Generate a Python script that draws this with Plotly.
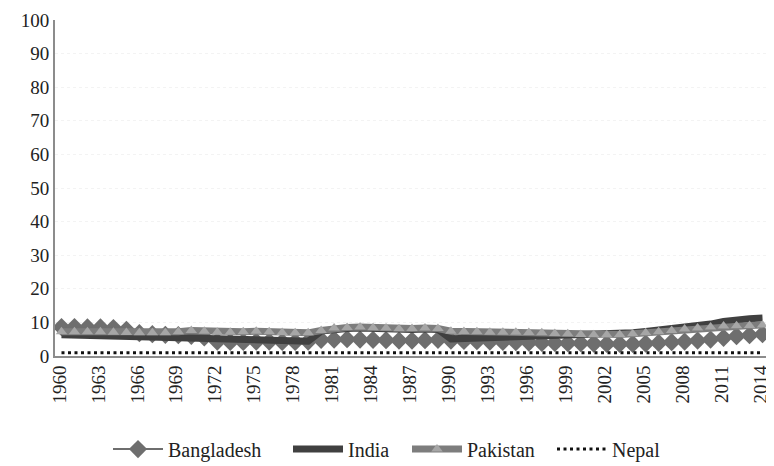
import plotly.graph_objects as go

years = list(range(1960, 2015))

bangladesh = [8.6, 8.6, 8.5, 8.5, 8.3, 7.8,
              6.8, 6.5, 6.3, 6.2, 6.0, 5.5,
              4.3, 4.2, 4.2, 4.3, 4.3, 4.2, 4.2, 4.3,
              4.8, 4.9, 5.0, 4.9, 4.8, 4.7, 4.6, 4.6, 4.7, 4.8,
              4.6, 4.5, 4.4, 4.3, 4.2, 4.1, 4.0, 3.9, 3.9, 3.8,
              3.8, 3.7, 3.6, 3.6, 3.6, 3.7, 3.9, 4.1, 4.3, 4.6,
              4.9, 5.4, 5.9, 6.2, 6.5]

india = [6.3, 6.2, 6.1, 6.0, 5.9, 5.8, 5.6, 5.5, 5.5, 5.5,
         5.6, 5.5, 5.4, 5.3, 5.2, 5.1, 5.0, 4.8, 4.6, 4.4,
         7.4, 8.0, 8.2, 8.3, 8.1, 8.0, 7.8, 7.9, 8.0, 7.9,
         5.1, 5.2, 5.3, 5.4, 5.4, 5.5, 5.6, 5.7, 5.8, 5.9,
         6.0, 6.1, 6.3, 6.5, 6.9, 7.3, 7.7, 8.1, 8.5, 8.9,
         9.5, 10.3, 10.9, 11.1, 11.3]

pakistan = [7.2, 7.2, 7.2, 7.2, 7.1, 7.0, 6.9, 6.9, 6.9, 7.2,
            7.6, 7.4, 7.1, 7.1, 7.2, 7.4, 7.2, 7.0, 6.9, 6.9,
            7.6, 8.3, 8.5, 8.6, 8.4, 8.3, 8.1, 8.2, 8.3, 8.2,
            7.4, 7.3, 7.2, 7.1, 7.1, 7.1, 7.0, 6.9, 6.7, 6.6,
            6.4, 6.3, 6.3, 6.4, 6.6, 6.9, 7.2, 7.6, 8.0, 8.3,
            8.6, 8.9, 9.0, 9.1, 9.2]

nepal = [1.0] * 55

tick_years = list(range(1960, 2015, 3))

FONT = "Liberation Serif"

fig = go.Figure()
fig.add_trace(go.Scatter(
    x=years, y=bangladesh, name="Bangladesh", mode="lines+markers",
    line=dict(color="#6e6e6e", width=2),
    marker=dict(symbol="diamond", size=14, color="#6e6e6e"),
    legend="legend",
))
fig.add_trace(go.Scatter(
    x=years, y=india, name="India", mode="lines",
    line=dict(color="#404040", width=7),
    legend="legend2",
))
fig.add_trace(go.Scatter(
    x=years, y=pakistan, name="Pakistan", mode="lines+markers",
    line=dict(color="#7d7d7d", width=7),
    marker=dict(symbol="triangle-up", size=10, color="#a6a6a6"),
    legend="legend3",
))
fig.add_trace(go.Scatter(
    x=years, y=nepal, name="Nepal", mode="lines",
    line=dict(color="#111111", width=3, dash="3px,3.5px"),
    legend="legend4",
))

W = 774

def leg(px):
    return dict(orientation="h", xref="container", x=(px - 8) / W, xanchor="left",
                yref="container", y=0.037, yanchor="middle",
                font=dict(family=FONT, size=20, color="#222222"),
                itemwidth=50, bgcolor="rgba(0,0,0,0)")

fig.update_layout(
    width=W, height=458,
    margin=dict(l=47, r=13, t=12, b=110, autoexpand=False),
    paper_bgcolor="white", plot_bgcolor="white",
    font=dict(family=FONT, size=19, color="#222222"),
    showlegend=True,
    legend=leg(108),
    legend2=leg(288),
    legend3=leg(407),
    legend4=leg(552),
)
fig.update_xaxes(
    range=[1959.5, 2014.5], tickmode="array", tickvals=tick_years,
    ticktext=[str(y) for y in tick_years], tickangle=-90,
    ticklabeloverflow="allow", ticklabelshift=-2,
    showline=True, linecolor="#8c8c8c", linewidth=2,
    showgrid=False, zeroline=False, ticks="",
    tickfont=dict(family=FONT, size=19, color="#222222"),
)
fig.update_yaxes(
    range=[0, 100], dtick=10, tick0=0,
    showline=True, linecolor="#8c8c8c", linewidth=2,
    showgrid=True, gridcolor="#f3f3f3", griddash="dot", gridwidth=1,
    zeroline=False, ticks="",
    tickfont=dict(family=FONT, size=19, color="#222222"),
)

fig.write_html("out.html")
